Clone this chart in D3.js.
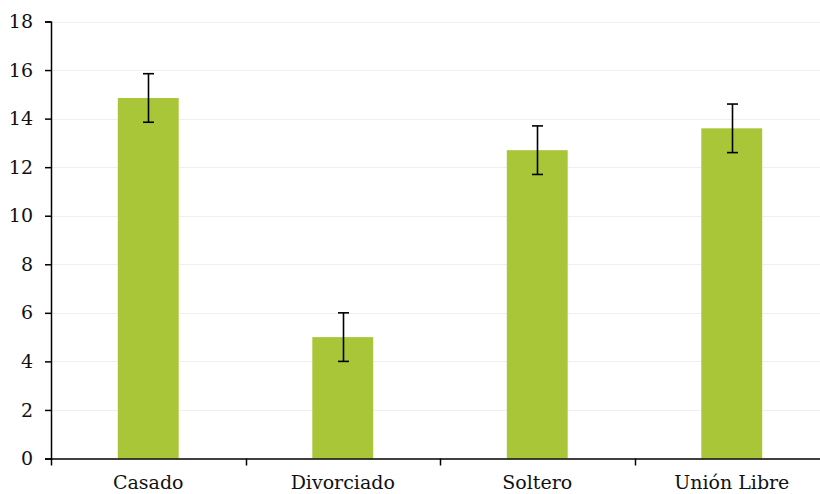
<!DOCTYPE html>
<html><head><meta charset="utf-8">
<script src="https://cdn.jsdelivr.net/npm/d3@7"></script>
<style>body{margin:0;background:#fff}svg{display:block}</style>
</head><body>
<svg id="c" width="820" height="494"></svg>
<script>
const categories = ["Casado", "Divorciado", "Soltero", "Unión Libre"];
const values = [14.85, 5.0, 12.7, 13.6];
const errors = [1.0, 1.0, 1.0, 1.0];
const yTicks = [0, 2, 4, 6, 8, 10, 12, 14, 16, 18];

const svg = d3.select("#c");
const font = "'DejaVu Serif', serif";
const x = d3.scaleBand().domain(categories).range([51, 829]).paddingInner(0).paddingOuter(0);
const y = d3.scaleLinear().domain([0, 18]).range([458.5, 21.5]);

// gridlines
svg.append("g").selectAll("line").data(yTicks.slice(1)).join("line")
  .attr("x1", 51).attr("x2", 820)
  .attr("y1", d => Math.round(y(d)) + 0.5).attr("y2", d => Math.round(y(d)) + 0.5)
  .attr("stroke", "#efefef").attr("stroke-width", 1);

const bw = x.bandwidth() * 0.313;
svg.append("g").selectAll("rect").data(values).join("rect")
  .attr("x", (d, i) => x(categories[i]) + x.bandwidth() / 2 - bw / 2)
  .attr("width", bw)
  .attr("y", d => y(d))
  .attr("height", d => y(0) - y(d))
  .attr("fill", "#a9c638");

// error bars
const eg = svg.append("g").attr("stroke", "#000").attr("stroke-width", 1.6);
values.forEach((v, i) => {
  const cx = Math.round(x(categories[i]) + x.bandwidth() / 2) + 0.5;
  const hi = y(v + errors[i]), lo = y(v - errors[i]);
  eg.append("line").attr("x1", cx).attr("x2", cx).attr("y1", hi).attr("y2", lo);
  eg.append("line").attr("x1", cx - 5.5).attr("x2", cx + 5.5).attr("y1", hi).attr("y2", hi);
  eg.append("line").attr("x1", cx - 5.5).attr("x2", cx + 5.5).attr("y1", lo).attr("y2", lo);
});

// y axis
const ya = svg.append("g").attr("transform", "translate(51,0)")
  .call(d3.axisLeft(y).tickValues(yTicks).tickSize(6).tickPadding(12).tickFormat(d3.format("d")));
ya.select(".domain").attr("stroke", "#000").attr("stroke-width", 1.5);
ya.selectAll(".tick line").attr("stroke", "#000").attr("stroke-width", 1.5);
ya.selectAll("text").attr("font-family", font).attr("font-size", 19).attr("fill", "#111");

// x axis
const xa = svg.append("g").attr("transform", `translate(0,${y(0)})`)
  .call(d3.axisBottom(x).tickSize(0).tickPadding(17));
xa.select(".domain").attr("stroke", "#000").attr("stroke-width", 1.5);
xa.selectAll("text").attr("font-family", font).attr("font-size", 19).attr("fill", "#111");
// boundary ticks
const bounds = categories.map(c => x(c)).concat([x.range()[1]]);
xa.append("g").selectAll("line").data(bounds).join("line")
  .attr("x1", d => Math.round(d) + 0.5).attr("x2", d => Math.round(d) + 0.5)
  .attr("y1", 0).attr("y2", 7).attr("stroke", "#000").attr("stroke-width", 1.5);
</script>
</body></html>
